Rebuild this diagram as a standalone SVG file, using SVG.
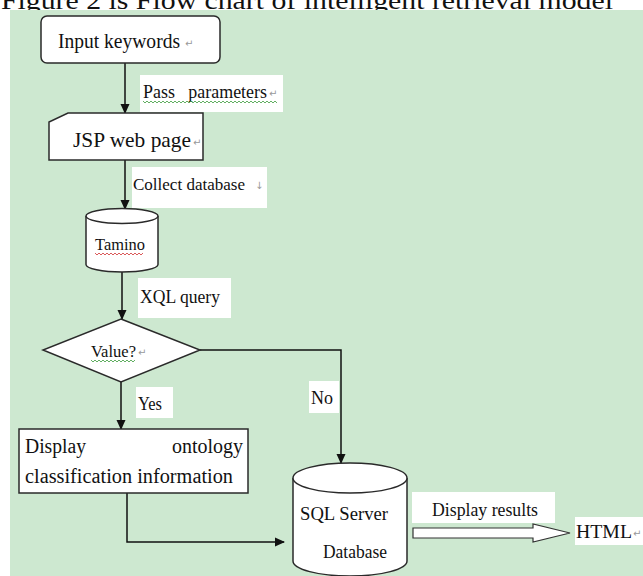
<svg xmlns="http://www.w3.org/2000/svg" width="643" height="576" viewBox="0 0 643 576">
<defs>
<style>
.t{font-family:"Liberation Serif","Times New Roman",serif;fill:#111;}
.n{fill:#fff;stroke:#2a2a2a;stroke-width:1.5;}
.lbl{fill:#fff;stroke:none;}
.c{fill:none;stroke:#111;stroke-width:1.5;}
.pm{font-family:"DejaVu Sans",sans-serif;fill:#999;font-size:10px;}
.wg{fill:none;stroke:#3a9a3a;stroke-width:0.8;}
.wr{fill:none;stroke:#d03030;stroke-width:0.8;}
</style>
<marker id="ah" markerWidth="10" markerHeight="10" refX="9" refY="5" orient="auto" markerUnits="userSpaceOnUse">
<path d="M0,0.5 L10,5 L0,9.5 Z" fill="#111"/>
</marker>
</defs>
<rect x="0" y="0" width="643" height="576" fill="#fff"/>
<text class="t" x="1" y="9" font-size="25" textLength="612" lengthAdjust="spacingAndGlyphs">Figure 2 is Flow chart of intelligent retrieval model</text>
<rect x="10" y="10" width="633" height="566" fill="#cde8d0"/>

<g id="connectors">
<line class="c" x1="125" y1="63" x2="125" y2="113" marker-end="url(#ah)"/>
<line class="c" x1="125" y1="160" x2="125" y2="209" marker-end="url(#ah)"/>
<line class="c" x1="122" y1="272" x2="122" y2="319" marker-end="url(#ah)"/>
<line class="c" x1="121" y1="382" x2="121" y2="429" marker-end="url(#ah)"/>
<polyline class="c" points="200,350 341,350 341,463" marker-end="url(#ah)"/>
<polyline class="c" points="127,493 127,542 284,542" marker-end="url(#ah)"/>
<polygon points="413,528 533,528 533,524 570,533 533,542 533,538 413,538" fill="#fff" stroke="#333" stroke-width="1.2"/>
</g>

<g id="label-pass">
<rect class="lbl" x="140" y="75" width="143" height="37"/>
<text class="t" x="143" y="98" font-size="18" textLength="124" lengthAdjust="spacingAndGlyphs" xml:space="preserve">Pass   parameters</text>
<text class="pm" x="269" y="97">↵</text>
<path class="wg" d="M143,101 l2,2 l2,-2 l2,2 l2,-2 l2,2 l2,-2 l2,2 l2,-2 l2,2 l2,-2 l2,2 l2,-2 l2,2 l2,-2 l2,2 l2,-2 l2,2 l2,-2 l2,2 l2,-2 l2,2 l2,-2 l2,2 l2,-2 l2,2 l2,-2 l2,2 l2,-2 l2,2 l2,-2 l2,2 l2,-2 l2,2 l2,-2 l2,2 l2,-2 l2,2 l2,-2 l2,2 l2,-2 l2,2 l2,-2 l2,2 l2,-2 l2,2 l2,-2 l2,2 l2,-2 l2,2 l2,-2 l2,2 l2,-2 l2,2 l2,-2 l2,2 l2,-2 l2,2 l2,-2 l2,2 l2,-2 l2,2 l2,-2 l2,2 l2,-2 l2,2 l2,-2 l2,2"/>
</g>
<g id="label-collect">
<rect class="lbl" x="132" y="167" width="135" height="41"/>
<text class="t" x="133" y="190" font-size="17" textLength="112" lengthAdjust="spacingAndGlyphs">Collect database</text>
<text class="pm" x="255" y="189">↓</text>
</g>
<g id="label-xql">
<rect class="lbl" x="138" y="278" width="93" height="40"/>
<text class="t" x="140" y="303" font-size="19" textLength="80" lengthAdjust="spacingAndGlyphs">XQL query</text>
</g>
<g id="label-yes">
<rect class="lbl" x="136" y="387" width="37" height="31"/>
<text class="t" x="138" y="410" font-size="18" textLength="24" lengthAdjust="spacingAndGlyphs">Yes</text>
</g>
<g id="label-no">
<rect class="lbl" x="309" y="381" width="30" height="32"/>
<text class="t" x="311" y="404" font-size="18" textLength="22" lengthAdjust="spacingAndGlyphs">No</text>
</g>
<g id="label-results">
<rect class="lbl" x="412" y="492" width="143" height="31"/>
<text class="t" x="432" y="516" font-size="18" textLength="106" lengthAdjust="spacingAndGlyphs">Display results</text>
</g>

<g id="input-keywords">
<rect class="n" x="41" y="16" width="179" height="47" rx="6"/>
<text class="t" x="58" y="48" font-size="21" textLength="122" lengthAdjust="spacingAndGlyphs">Input keywords</text>
<text class="pm" x="185" y="47">↵</text>
</g>

<g id="jsp-web-page">
<path class="n" d="M68,113 H203 V160 H49 V122 Z"/>
<text class="t" x="73" y="147" font-size="21" textLength="118" lengthAdjust="spacingAndGlyphs">JSP web page</text>
<text class="pm" x="193" y="146">↵</text>
</g>

<g id="tamino">
<path class="n" d="M86,216 V264.5 A36,7.5 0 0 0 158,264.5 V216"/>
<ellipse class="n" cx="122" cy="216" rx="36" ry="7.5"/>
<text class="t" x="95" y="250" font-size="17" textLength="50" lengthAdjust="spacingAndGlyphs">Tamino</text>
<path class="wr" d="M95,253 l2,2 l2,-2 l2,2 l2,-2 l2,2 l2,-2 l2,2 l2,-2 l2,2 l2,-2 l2,2 l2,-2 l2,2 l2,-2 l2,2 l2,-2 l2,2 l2,-2 l2,2 l2,-2 l2,2 l2,-2 l2,2 l2,-2"/>
</g>

<g id="value-decision">
<polygon class="n" points="121,319 200,350 121,382 43,350"/>
<text class="t" x="91" y="357" font-size="17" textLength="45" lengthAdjust="spacingAndGlyphs">Value?</text>
<text class="pm" x="138" y="356">↵</text>
<path class="wg" d="M91,360 l2,2 l2,-2 l2,2 l2,-2 l2,2 l2,-2 l2,2 l2,-2 l2,2 l2,-2 l2,2 l2,-2 l2,2 l2,-2 l2,2 l2,-2 l2,2 l2,-2 l2,2 l2,-2 l2,2 l2,-2"/>
</g>

<g id="display-ontology">
<rect class="n" x="19" y="429" width="229" height="64"/>
<text class="t" x="25" y="453" font-size="20" textLength="61" lengthAdjust="spacingAndGlyphs">Display</text>
<text class="t" x="172" y="453" font-size="20" textLength="71" lengthAdjust="spacingAndGlyphs">ontology</text>
<text class="t" x="25" y="483" font-size="20" textLength="208" lengthAdjust="spacingAndGlyphs">classification information</text>
</g>

<g id="sql-server">
<path class="n" d="M293,478 V561 A57,15 0 0 0 407,561 V478"/>
<ellipse class="n" cx="350" cy="478" rx="57" ry="15"/>
<text class="t" x="300" y="520" font-size="19" textLength="88" lengthAdjust="spacingAndGlyphs">SQL Server</text>
<text class="t" x="323" y="558" font-size="19" textLength="64" lengthAdjust="spacingAndGlyphs">Database</text>
</g>

<g id="html">
<rect class="lbl" x="575" y="517" width="68" height="28"/>
<text class="t" x="576" y="538" font-size="19" textLength="56" lengthAdjust="spacingAndGlyphs">HTML</text>
<text class="pm" x="633" y="537">↵</text>
</g>
</svg>
